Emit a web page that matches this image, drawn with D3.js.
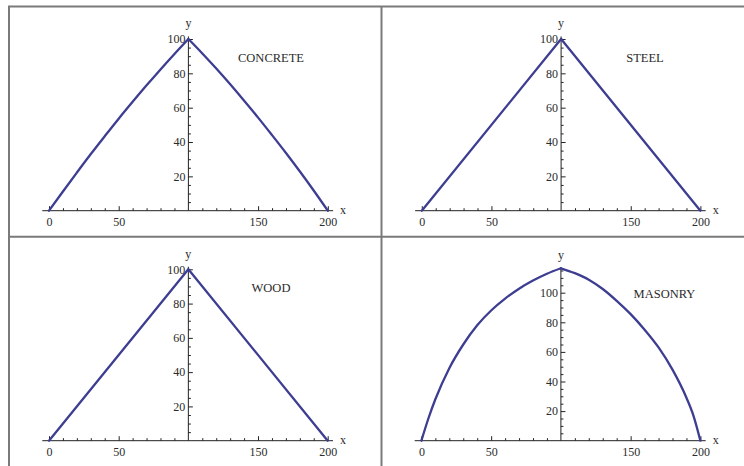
<!DOCTYPE html>
<html>
<head>
<meta charset="utf-8">
<script src="https://cdn.jsdelivr.net/npm/d3@7"></script>
<style>
  body { margin: 0; background: #fff; }
  svg { display: block; }
  text { font-family: "Liberation Serif", "Times New Roman", serif; fill: #2b2b2b; }
</style>
</head>
<body>
<svg id="chart" width="744" height="466"></svg>
<script>
// ---- data -------------------------------------------------------------
const materials = ["CONCRETE", "STEEL", "WOOD", "MASONRY"];

const concreteX = [0, 10, 20, 30, 40, 50, 60, 70, 80, 90, 100, 110, 120, 130, 140, 150, 160, 170, 180, 190, 200];
const concreteY = [0, 11.2, 22.2, 33, 43.4, 53.6, 63.4, 73, 82.3, 91.3, 100, 91.6, 82.8, 73.6, 64, 54.2, 44, 33.6, 22.8, 11.6, 0];

const steelX = [0, 100, 200];
const steelY = [0, 100, 0];

const woodX = [0, 100, 200];
const woodY = [0, 100, 0];

const masonryX = [0, 5, 10, 20, 30, 40, 50, 60, 70, 80, 90, 100, 110, 120, 130, 140, 150, 160, 170, 180, 190, 195, 200];
const masonryY = [0, 15, 28, 49, 65, 78, 88, 96, 102.7, 108.2, 112.8, 116.5, 113.2, 108.8, 102.5, 94.5, 85.5, 75, 63, 48, 29, 17, 0];

const xTickLabels = [0, 50, 150, 200];
const yTickLabels = [20, 40, 60, 80, 100];

// ---- layout -----------------------------------------------------------
const panels = [
  { name: "CONCRETE", xs: concreteX, ys: concreteY, x0: 49,    x1: 327.8, base: 210.7, top: 39,    yMax: 101.5, title: [271, 58] },
  { name: "STEEL",    xs: steelX,    ys: steelY,    x0: 421.8, x1: 700.4, base: 210.7, top: 39,    yMax: 101.5, title: [645, 58] },
  { name: "WOOD",     xs: woodX,     ys: woodY,     x0: 49,    x1: 327.7, base: 440.7, top: 269.3, yMax: 101.5, title: [271, 287.5] },
  { name: "MASONRY",  xs: masonryX,  ys: masonryY,  x0: 421.4, x1: 700.4, base: 440.7, top: 292.7, yMax: 116.5, title: [664.5, 293.5] }
];

const svg = d3.select("#chart");

// frame lines separating the four plots
const frame = svg.append("g").attr("stroke", "#7a7a7a").attr("stroke-width", 2);
frame.append("line").attr("x1", 8).attr("x2", 744).attr("y1", 6.5).attr("y2", 6.5);
frame.append("line").attr("x1", 9).attr("x2", 9).attr("y1", 6).attr("y2", 466);
frame.append("line").attr("x1", 381.5).attr("x2", 381.5).attr("y1", 6).attr("y2", 466);
frame.append("line").attr("x1", 9).attr("x2", 744).attr("y1", 236.8).attr("y2", 236.8);

panels.forEach(p => {
  const g = svg.append("g");
  const x = d3.scaleLinear().domain([0, 200]).range([p.x0, p.x1]);
  const y = d3.scaleLinear().domain([0, 100]).range([p.base, p.top]);
  const axisX = x(100);

  // axis lines
  g.append("line")
    .attr("x1", x(-4.8)).attr("x2", x(203.8))
    .attr("y1", y(0)).attr("y2", y(0))
    .attr("stroke", "#222").attr("stroke-width", 1);
  g.append("line")
    .attr("x1", axisX).attr("x2", axisX)
    .attr("y1", y(0)).attr("y2", y(p.yMax))
    .attr("stroke", "#222").attr("stroke-width", 1);

  // x axis: major ticks with labels, minor ticks every 10
  const minorX = d3.range(10, 200, 10).filter(v => v % 50 !== 0);
  g.append("g").attr("transform", `translate(0,${y(0)})`)
    .call(d3.axisBottom(x).tickValues(xTickLabels).tickSizeInner(-4.5).tickSizeOuter(0).tickPadding(6.5))
    .call(s => s.select(".domain").remove())
    .call(s => s.selectAll("line").attr("stroke", "#222"))
    .call(s => s.selectAll("text").attr("font-size", 12).attr("font-family", "Liberation Serif").attr("fill", "#2b2b2b"));
  g.append("g").attr("transform", `translate(0,${y(0)})`)
    .call(d3.axisBottom(x).tickValues(minorX).tickSizeInner(-2.5).tickSizeOuter(0).tickFormat(""))
    .call(s => s.select(".domain").remove())
    .call(s => s.selectAll("line").attr("stroke", "#222"));

  // y axis: major ticks with labels, minor ticks every 5
  const minorY = d3.range(5, p.yMax, 5).filter(v => v % 20 !== 0);
  g.append("g").attr("transform", `translate(${axisX},0)`)
    .call(d3.axisLeft(y).tickValues(yTickLabels).tickSizeInner(-4.5).tickSizeOuter(0).tickPadding(3))
    .call(s => s.select(".domain").remove())
    .call(s => s.selectAll("line").attr("stroke", "#222"))
    .call(s => s.selectAll("text").attr("font-size", 12).attr("font-family", "Liberation Serif").attr("fill", "#2b2b2b"));
  g.append("g").attr("transform", `translate(${axisX},0)`)
    .call(d3.axisLeft(y).tickValues(minorY).tickSizeInner(-2.5).tickSizeOuter(0).tickFormat(""))
    .call(s => s.select(".domain").remove())
    .call(s => s.selectAll("line").attr("stroke", "#222"));

  // axis names
  g.append("text").attr("x", axisX).attr("y", y(p.yMax) - 9)
    .attr("text-anchor", "middle").attr("font-size", 12).text("y");
  g.append("text").attr("x", x(203.8) + 7).attr("y", y(0) + 3.5)
    .attr("font-size", 12).text("x");

  // the curve, drawn as two halves meeting at the crown
  const pts = p.xs.map((v, i) => [v, p.ys[i]]);
  const peak = d3.maxIndex(p.ys);
  const halves = [pts.slice(0, peak + 1), pts.slice(peak)];
  const line = d3.line().x(d => x(d[0])).y(d => y(d[1])).curve(d3.curveMonotoneX);
  g.selectAll("path.curve").data(halves).join("path")
    .attr("class", "curve")
    .attr("d", line)
    .attr("fill", "none")
    .attr("stroke", "#3d3d92")
    .attr("stroke-width", 2.3)
    .attr("stroke-linejoin", "round")
    .attr("stroke-linecap", "round");

  // material name
  g.append("text").attr("x", p.title[0]).attr("y", p.title[1])
    .attr("text-anchor", "middle").attr("dominant-baseline", "central")
    .attr("font-size", 12.5).text(p.name);
});
</script>
</body>
</html>
